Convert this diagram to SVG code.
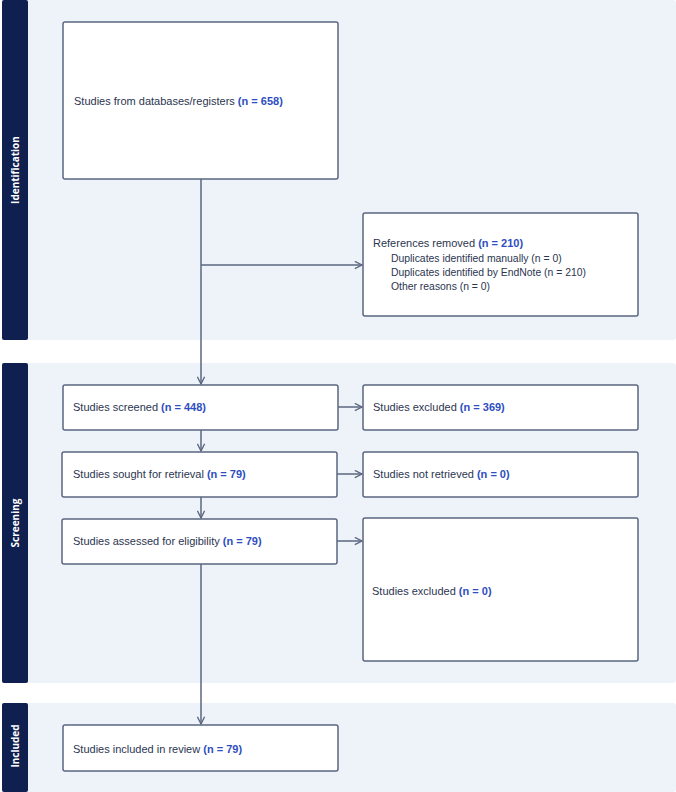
<svg xmlns="http://www.w3.org/2000/svg" width="676" height="792" viewBox="0 0 676 792">
<style>
.panel{fill:#eef3fa}
.side{fill:#0f1f4f}
.stitle{fill:#fff;font-family:"Open Sans",sans-serif;font-weight:bold;font-size:10px}
.box{fill:#fff;stroke:#5b6780;stroke-width:1.5}
.t{font-family:"Liberation Sans",sans-serif;font-size:11px;fill:#2b3550}
.t.s{font-size:10.4px}
.n{fill:#2d4ec0;font-weight:bold}
.c{stroke:#5b6780;stroke-width:1.5;fill:none}
</style>
<defs><marker id="ah" viewBox="0 0 10 10" refX="9" refY="5" markerWidth="9" markerHeight="9" orient="auto" markerUnits="userSpaceOnUse"><path d="M1,1 L9,5 L1,9" fill="none" stroke="#5b6780" stroke-width="1.5"/></marker></defs>
<rect width="676" height="792" fill="#fff"/>
<g id="stage-identification"><rect class="panel" x="2" y="0" width="674" height="340" rx="3"/><rect class="side" x="2" y="0" width="26" height="340" rx="2"/><text class="stitle" transform="translate(19,170) rotate(-90)" text-anchor="middle">Identification</text></g>
<g id="stage-screening"><rect class="panel" x="2" y="363" width="674" height="320" rx="3"/><rect class="side" x="2" y="363" width="26" height="320" rx="2"/><text class="stitle" transform="translate(19,523) rotate(-90)" text-anchor="middle">Screening</text></g>
<g id="stage-included"><rect class="panel" x="2" y="703" width="674" height="89" rx="3"/><rect class="side" x="2" y="703" width="26" height="89" rx="2"/><text class="stitle" transform="translate(19,746) rotate(-90)" text-anchor="middle">Included</text></g>
<g id="connectors">
<path class="c" d="M201,179 V384" marker-end="url(#ah)"/>
<path class="c" d="M201,265 H362" marker-end="url(#ah)"/>
<path class="c" d="M338,407 H362" marker-end="url(#ah)"/>
<path class="c" d="M201,430 V451" marker-end="url(#ah)"/>
<path class="c" d="M337,474 H362" marker-end="url(#ah)"/>
<path class="c" d="M201,497 V518" marker-end="url(#ah)"/>
<path class="c" d="M337,541 H362" marker-end="url(#ah)"/>
<path class="c" d="M201,564 V724" marker-end="url(#ah)"/>
</g>
<g id="n-databases"><rect class="box" x="63" y="22" width="275" height="157" rx="2"/><text class="t" x="74" y="105">Studies from databases/registers <tspan class="n">(n = 658)</tspan></text></g>
<g id="n-removed"><rect class="box" x="363" y="213" width="275" height="103" rx="2"/><text class="t" x="373" y="247">References removed <tspan class="n">(n = 210)</tspan></text><text class="t s" x="391" y="262">Duplicates identified manually (n = 0)</text><text class="t s" x="391" y="276">Duplicates identified by EndNote (n = 210)</text><text class="t s" x="391" y="290">Other reasons (n = 0)</text></g>
<g id="n-screened"><rect class="box" x="63" y="385" width="275" height="45" rx="2"/><text class="t" x="73" y="411">Studies screened <tspan class="n">(n = 448)</tspan></text></g>
<g id="n-excluded1"><rect class="box" x="363" y="385" width="275" height="45" rx="2"/><text class="t" x="373" y="411">Studies excluded <tspan class="n">(n = 369)</tspan></text></g>
<g id="n-sought"><rect class="box" x="62" y="452" width="275" height="45" rx="2"/><text class="t" x="73" y="478">Studies sought for retrieval <tspan class="n">(n = 79)</tspan></text></g>
<g id="n-notretrieved"><rect class="box" x="363" y="452" width="275" height="45" rx="2"/><text class="t" x="373" y="478">Studies not retrieved <tspan class="n">(n = 0)</tspan></text></g>
<g id="n-assessed"><rect class="box" x="62" y="519" width="275" height="45" rx="2"/><text class="t" x="73" y="545">Studies assessed for eligibility <tspan class="n">(n = 79)</tspan></text></g>
<g id="n-excluded2"><rect class="box" x="363" y="518" width="275" height="143" rx="2"/><text class="t" x="372" y="595">Studies excluded <tspan class="n">(n = 0)</tspan></text></g>
<g id="n-included"><rect class="box" x="63" y="725" width="275" height="46" rx="2"/><text class="t" x="73" y="753">Studies included in review <tspan class="n">(n = 79)</tspan></text></g>
</svg>
